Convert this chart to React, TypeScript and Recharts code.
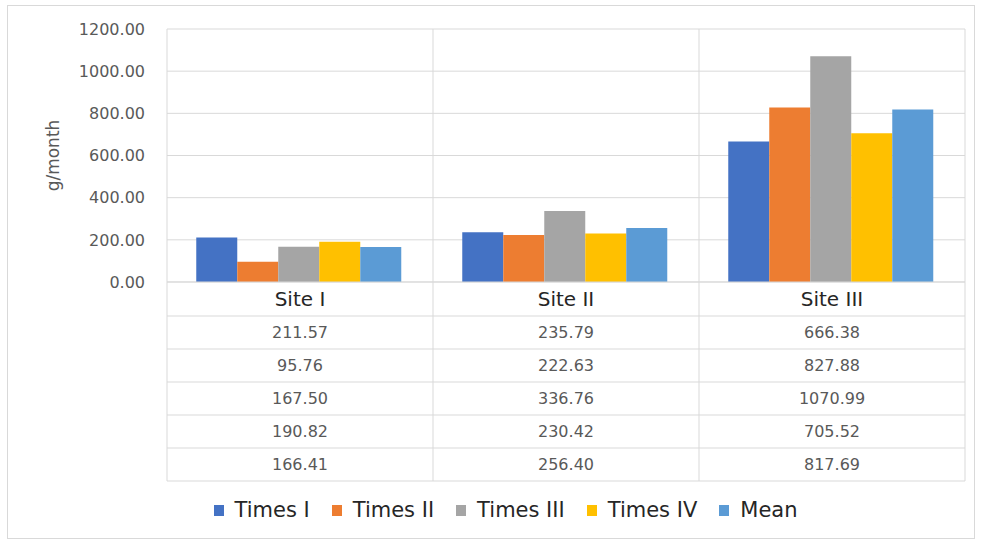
import { BarChart, Bar, XAxis, YAxis, CartesianGrid, Legend } from "recharts";

const sites = ["Site I", "Site II", "Site III"];
const timesI = [211.57, 235.79, 666.38];
const timesII = [95.76, 222.63, 827.88];
const timesIII = [167.5, 336.76, 1070.99];
const timesIV = [190.82, 230.42, 705.52];
const mean = [166.41, 256.4, 817.69];
const yTicks = [0, 200, 400, 600, 800, 1000, 1200];

const series = [
  { key: "timesI", name: "Times I", color: "#4472C4", values: timesI },
  { key: "timesII", name: "Times II", color: "#ED7D31", values: timesII },
  { key: "timesIII", name: "Times III", color: "#A5A5A5", values: timesIII },
  { key: "timesIV", name: "Times IV", color: "#FFC000", values: timesIV },
  { key: "mean", name: "Mean", color: "#5B9BD5", values: mean },
];

const data = sites.map((site, i) => {
  const row: Record<string, string | number> = { site };
  series.forEach((s) => (row[s.key] = s.values[i]));
  return row;
});

const FONT = "'DejaVu Sans', sans-serif";
const GRID = "#d9d9d9";
const PLOT_TOP = 29;
const HEAD_H = 34;
const ROW_H = 33;

// x-axis tick draws the whole data-table column under each site
function TableTick(props: any) {
  const { x, y, payload, index, width, visibleTicksCount } = props;
  const half = width && visibleTicksCount ? width / visibleTicksCount / 2 : 133;
  const left = x - half;
  const right = x + half;
  const bottom = y + HEAD_H + ROW_H * series.length;
  return (
    <g>
      {index === 0 && <line x1={left} x2={left} y1={PLOT_TOP} y2={bottom} stroke={GRID} />}
      <line x1={right} x2={right} y1={PLOT_TOP} y2={bottom} stroke={GRID} />
      <text
        x={x}
        y={y + HEAD_H / 2}
        textAnchor="middle"
        dominantBaseline="central"
        fontFamily={FONT}
        fontSize={20}
        fill="#262626"
      >
        {payload.value}
      </text>
      {series.map((s, r) => {
        const top = y + HEAD_H + r * ROW_H;
        return (
          <g key={s.key}>
            <line x1={left} x2={right} y1={top} y2={top} stroke={GRID} />
            <text
              x={x}
              y={top + ROW_H / 2}
              textAnchor="middle"
              dominantBaseline="central"
              fontFamily={FONT}
              fontSize={16}
              fill="#595959"
            >
              {s.values[index].toFixed(2)}
            </text>
          </g>
        );
      })}
      <line x1={left} x2={right} y1={bottom} y2={bottom} stroke={GRID} />
    </g>
  );
}

function LegendContent() {
  return (
    <div
      style={{
        display: "flex",
        justifyContent: "center",
        alignItems: "center",
        gap: 22,
        fontFamily: FONT,
        fontSize: 21,
        color: "#262626",
        paddingLeft: 30,
      }}
    >
      {series.map((s) => (
        <div key={s.key} style={{ display: "flex", alignItems: "center", gap: 11 }}>
          <span style={{ width: 10, height: 11, background: s.color, display: "inline-block" }} />
          <span>{s.name}</span>
        </div>
      ))}
    </div>
  );
}

export default function App() {
  return (
    <div style={{ position: "absolute", left: 0, top: 0, width: 981, height: 542, background: "#fff" }}>
      <div
        style={{
          position: "absolute",
          left: 7,
          top: 5,
          width: 966,
          height: 532,
          border: "1px solid #d9d9d9",
        }}
      />
      <BarChart
        width={981}
        height={542}
        data={data}
        margin={{ top: PLOT_TOP, right: 16, bottom: 0, left: 0 }}
        barCategoryGap="11%"
        barGap={0}
      >
        <CartesianGrid stroke={GRID} vertical={false} />
        <XAxis
          dataKey="site"
          axisLine={{ stroke: GRID }}
          tickLine={false}
          tickSize={0}
          tickMargin={0}
          height={260}
          interval={0}
          tick={<TableTick />}
        />
        <YAxis
          width={167}
          domain={[0, 1200]}
          ticks={yTicks}
          axisLine={false}
          tickLine={false}
          tickSize={0}
          tickMargin={22}
          tickFormatter={(v: number) => v.toFixed(2)}
          tick={{ fill: "#595959", fontSize: 16, fontFamily: FONT }}
          label={{
            value: "g/month",
            angle: -90,
            position: "insideLeft",
            dx: 48,
            style: { fill: "#595959", fontSize: 17, fontFamily: FONT, textAnchor: "middle" },
          }}
        />
        <Legend
          layout="horizontal"
          verticalAlign="middle"
          align="center"
          content={<LegendContent />}
          wrapperStyle={{ top: 498, left: 0, width: 981 }}
        />
        {series.map((s) => (
          <Bar key={s.key} dataKey={s.key} name={s.name} fill={s.color} isAnimationActive={false} />
        ))}
      </BarChart>
    </div>
  );
}
